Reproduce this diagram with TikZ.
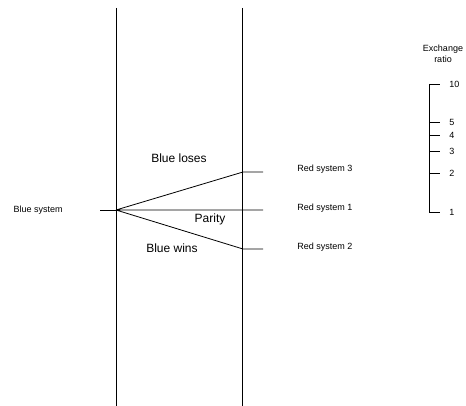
\documentclass[tikz,border=0pt]{standalone}
\usepackage{fontspec}
\setmainfont{Liberation Sans}
\usetikzlibrary{calc}
\begin{document}
\begin{tikzpicture}[x=1pt, y=-1pt, line width=0.8pt, line join=round,
	font=\fontsize{9}{10.5}\selectfont,
	region/.style={font=\fontsize{12}{14}\selectfont},
	lbl/.style={anchor=west, inner sep=1pt}]
	\useasboundingbox (0,0) rectangle (466,406);
	% the two vertical lines
	\coordinate (lt) at (116,8); \coordinate (lb) at (116,407);
	\coordinate (rt) at (242,8); \coordinate (rb) at (242,407);
	\draw (lt)--(lb) (rt)--(rb);
	% fan from the blue system
	\coordinate (o) at (116,210);
	\coordinate (bs) at (100,210);
	\coordinate (r3) at (243,172); \coordinate (r3e) at (263,172);
	\coordinate (r1) at (243,210); \coordinate (r1e) at (263,210);
	\coordinate (r2) at (243,249); \coordinate (r2e) at (263,249);
	\draw (bs)--(o);
	\draw (o)--(r3)--(r3e) (o)--(r1e) (o)--(r2)--(r2e);
	\node[anchor=east, inner sep=1pt] (blue) at (64,210) {Blue system};
	\node[lbl] (red3) at (296,169) {Red system 3};
	\node[lbl] (red1) at (296,208) {Red system 1};
	\node[lbl] (red2) at (296,247) {Red system 2};
	\node[region] (loses) at (179,158) {Blue loses};
	\node[region] (parity) at (210,219) {Parity};
	\node[region] (wins) at (172,248) {Blue wins};
	% exchange ratio scale (log)
	\node[align=center, inner sep=0pt] (ratio) at (443,54) {Exchange\\ratio};
	\coordinate (s1) at (429,212); \coordinate (s10) at (429,84);
	\draw (s10)--(s1);
	\foreach \v/\n in {1/t1,2/t2,3/t3,4/t4,5/t5,10/t10}{
		\coordinate (\n) at ($(s1)!{log10(\v)}!(s10)$);
		\draw (\n)--++(11,0) node[right, inner sep=1pt, xshift=8pt] (\n l) {\v};
	}
\end{tikzpicture}
\end{document}
